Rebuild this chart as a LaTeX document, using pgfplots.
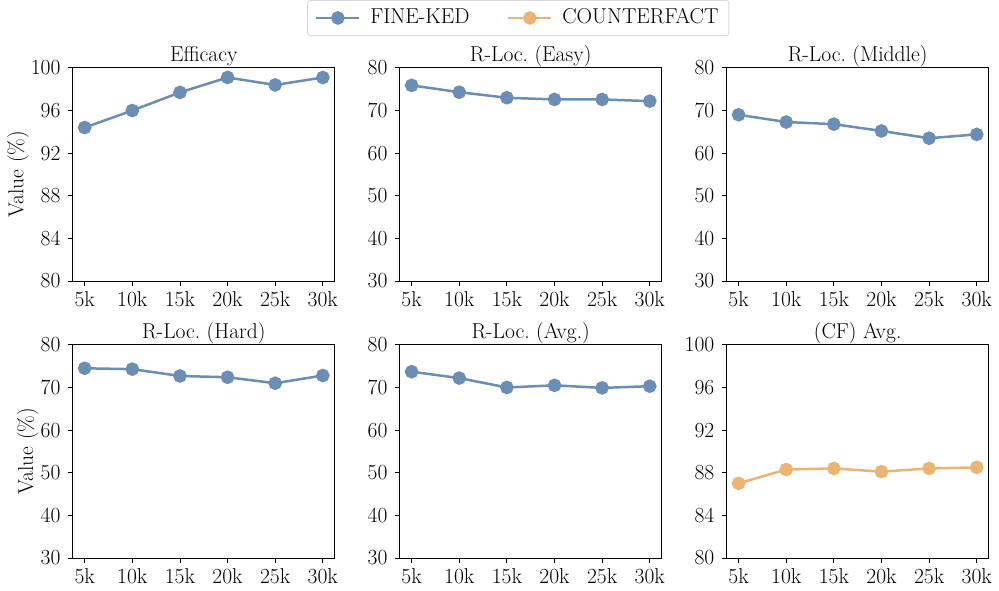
\documentclass[border=0pt]{standalone}
\usepackage{fontspec}
\usepackage{pgfplots}
\pgfplotsset{compat=1.18}
\usepgfplotslibrary{groupplots}
\definecolor{cblue}{RGB}{106,142,182}
\definecolor{corange}{RGB}{236,180,114}
\newcommand{\fs}{\fontsize{15.5}{18.6}\selectfont}
\begin{document}
\fs
\begin{tikzpicture}
\begin{groupplot}[
  group style={group size=3 by 2, horizontal sep=46.8pt, vertical sep=46pt},
  width=188.6pt, height=153.4pt, scale only axis,
  xmin=3.75, xmax=31.25,
  xtick={5,10,15,20,25,30},
  xticklabels={5k,10k,15k,20k,25k,30k},
  tick align=outside, tick pos=left,
  major tick length=3.5pt,
  every tick/.style={black, line width=0.6pt},
  axis line style={line width=0.6pt},
  /pgf/number format/assume math mode=true,
  tick label style={font=\fs},
  xticklabel style={yshift=1.5pt},
  title style={font=\fs, at={(0.5,1)}, anchor=base, yshift=-1.5pt},
  label style={font=\fs},
  ylabel shift=-9pt,
  every axis plot/.append style={line width=1.8pt, mark=*, mark size=4pt},
  legend image code/.code={\draw[#1, mark repeat=2, mark phase=2] plot coordinates {(0pt,0pt) (15.5pt,0pt) (31pt,0pt)};},
]
\nextgroupplot[title={Efficacy}, ymin=80, ymax=100, ytick={80,84,88,92,96,100}, ylabel={Value (\%)}]
\addplot[cblue, mark options={fill=cblue, draw=cblue}] coordinates {(5,94.4) (10,96.0) (15,97.7) (20,99.1) (25,98.4) (30,99.1)};
\nextgroupplot[title={R-Loc.~(Easy)}, ymin=30, ymax=80, ytick={30,40,50,60,70,80},
  legend columns=2,
  legend style={at={(0.452,1.15)}, anchor=south, font=\fs, draw=black!15, rounded corners=2pt, line width=0.6pt,
    /tikz/every odd column/.append style={column sep=5pt},
    /tikz/every even column/.append style={column sep=25pt}, inner xsep=5.5pt, inner ysep=4pt},
  legend cell align=left]
\addplot[cblue, mark options={fill=cblue, draw=cblue}] coordinates {(5,75.9) (10,74.3) (15,73.0) (20,72.6) (25,72.6) (30,72.2)};
\addlegendentry{FINE-KED}
\addlegendimage{corange, line width=1.8pt, mark=*, mark size=4pt, mark options={fill=corange, draw=corange}}
\addlegendentry{COUNTERFACT}
\nextgroupplot[title={R-Loc.~(Middle)}, ymin=30, ymax=80, ytick={30,40,50,60,70,80}]
\addplot[cblue, mark options={fill=cblue, draw=cblue}] coordinates {(5,69.0) (10,67.3) (15,66.8) (20,65.2) (25,63.5) (30,64.4)};
\nextgroupplot[title={R-Loc.~(Hard)}, ymin=30, ymax=80, ytick={30,40,50,60,70,80}, ylabel={Value (\%)}]
\addplot[cblue, mark options={fill=cblue, draw=cblue}] coordinates {(5,74.5) (10,74.3) (15,72.7) (20,72.4) (25,71.0) (30,72.8)};
\nextgroupplot[title={R-Loc.~(Avg.)}, ymin=30, ymax=80, ytick={30,40,50,60,70,80}]
\addplot[cblue, mark options={fill=cblue, draw=cblue}] coordinates {(5,73.7) (10,72.2) (15,70.0) (20,70.5) (25,69.9) (30,70.3)};
\nextgroupplot[title={(CF) Avg.}, ymin=80, ymax=100, ytick={80,84,88,92,96,100}]
\addplot[corange, mark options={fill=corange, draw=corange}] coordinates {(5,87.0) (10,88.3) (15,88.4) (20,88.1) (25,88.4) (30,88.5)};
\end{groupplot}
\end{tikzpicture}
\end{document}
